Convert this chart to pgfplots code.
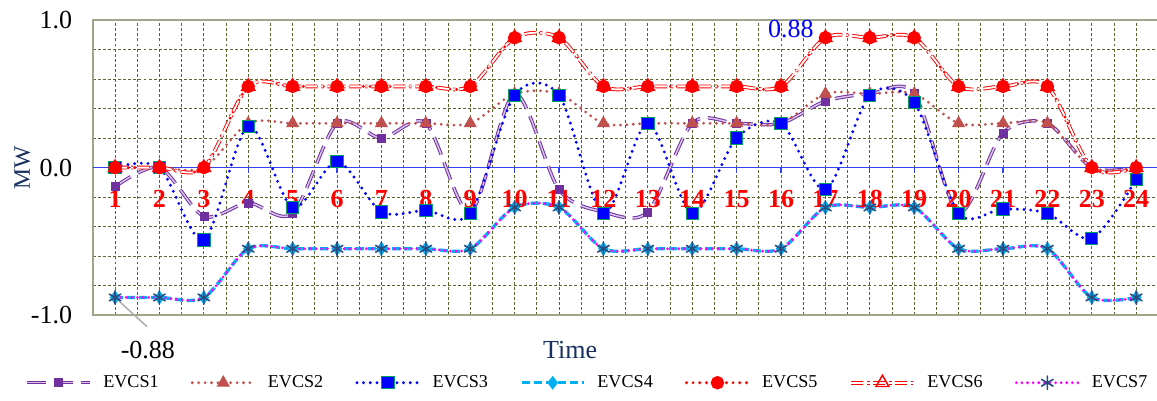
\documentclass[border=0pt]{standalone}
\usepackage{fontspec}
\setmainfont{Liberation Serif}
\usepackage{pgfplots}
\usepackage{pgfplotstable}
\pgfplotsset{compat=1.18}

\definecolor{cA}{HTML}{7030A0}
\definecolor{cAl}{HTML}{D8C4EA}
\definecolor{cB}{HTML}{C0504D}
\definecolor{cC}{HTML}{0000FF}
\definecolor{cCe}{HTML}{00A060}
\definecolor{cD}{HTML}{00B0F0}
\definecolor{cE}{HTML}{FF0000}
\definecolor{cG}{HTML}{FF00FF}
\definecolor{cStar}{HTML}{2B4C7E}
\definecolor{gridc}{HTML}{5A6630}
\definecolor{bordc}{HTML}{9DA68A}
\definecolor{zeroc}{HTML}{3344EE}
\definecolor{navy}{HTML}{17305E}

\pgfdeclareplotmark{dtick}{%
  \pgfpathmoveto{\pgfpoint{0pt}{0pt}}%
  \pgfpathlineto{\pgfpoint{0pt}{-\pgfplotmarksize}}%
  \pgfusepathqstroke}

\pgfplotstableread{
x  e1     e2   e3     e47    e56
1  -0.13  0    0      -0.88  0
2  0      0    0      -0.88  0
3  -0.33  0    -0.49  -0.88  0
4  -0.24  0.3  0.28   -0.55  0.55
5  -0.31  0.3  -0.27  -0.55  0.55
6  0.30   0.3  0.04   -0.55  0.55
7  0.20   0.3  -0.30  -0.55  0.55
8  0.30   0.3  -0.29  -0.55  0.55
9  -0.30  0.3  -0.31  -0.55  0.55
10 0.50   0.5  0.49   -0.27  0.88
11 -0.15  0.5  0.49   -0.27  0.88
12 -0.30  0.3  -0.31  -0.55  0.55
13 -0.30  0.3  0.30   -0.55  0.55
14 0.30   0.3  -0.31  -0.55  0.55
15 0.30   0.3  0.20   -0.55  0.55
16 0.30   0.3  0.30   -0.55  0.55
17 0.45   0.5  -0.15  -0.27  0.88
18 0.50   0.5  0.49   -0.27  0.88
19 0.50   0.5  0.44   -0.27  0.88
20 -0.30  0.3  -0.31  -0.55  0.55
21 0.235  0.3  -0.28  -0.55  0.55
22 0.30   0.3  -0.31  -0.55  0.55
23 0      0    -0.48  -0.88  0
24 0      0    -0.08  -0.88  0
}\data

\begin{document}
\begin{tikzpicture}
\begin{axis}[
  scale only axis,
  width=798.75pt, height=221.25pt,
  xmin=0.5, xmax=24.5, ymin=-1, ymax=1,
  xtick={1,...,24}, xticklabels={}, minor x tick num=1,
  ytick={-1,-0.8,-0.6,-0.4,-0.2,0,0.2,0.4,0.6,0.8,1},
  yticklabels={-1.0,,,,,0.0,,,,,1.0},
  yticklabel style={font=\fontsize{19.5}{22}\selectfont, xshift=-12pt},
  grid=both,
  major grid style={gridc, line width=0.6pt, dash pattern=on 2.2pt off 1.6pt},
  minor grid style={gridc, line width=0.6pt, dash pattern=on 2.2pt off 1.6pt},
  major tick length=0pt, minor tick length=0pt,
  axis line style={bordc, line width=1.5pt},
  clip=false,
  legend columns=7,
  legend style={at={(axis cs:11.65,-1.458)}, anchor=center, draw=none, fill=none,
    font=\fontsize{13.6}{16}\selectfont,
    /tikz/every odd column/.append style={column sep=7pt},
    /tikz/every even column/.append style={column sep=22pt}},
  legend image code/.code={\draw[mark repeat=2,mark phase=2,#1] plot coordinates {(0pt,0pt)(23.25pt,0pt)(46.5pt,0pt)};},
]
\coordinate (bl) at (rel axis cs:0,0);
\coordinate (tr) at (rel axis cs:1,1);

% zero line
\addplot[zeroc, line width=1.2pt, forget plot] coordinates {(0.5,0) (24.5,0)};
% ticks and red hour labels on the zero line
\addplot[only marks, mark=dtick, mark size=4pt, zeroc, line width=0.9pt, forget plot,
  point meta=explicit symbolic, nodes near coords={\pgfplotspointmeta},
  nodes near coords style={anchor=center, yshift=-23.6pt, text=red, inner sep=0pt,
    font=\fontsize{19.5}{22}\selectfont\bfseries}]
  coordinates {(1,0)[1] (2,0)[2] (3,0)[3] (4,0)[4] (5,0)[5] (6,0)[6] (7,0)[7] (8,0)[8]
  (9,0)[9] (10,0)[10] (11,0)[11] (12,0)[12] (13,0)[13] (14,0)[14] (15,0)[15] (16,0)[16]
  (17,0)[17] (18,0)[18] (19,0)[19] (20,0)[20] (21,0)[21] (22,0)[22] (23,0)[23] (24,0)[24]};

\addplot[cA, line width=0.75pt, double=cAl, double distance=1.1pt, dash pattern=on 14pt off 6pt,
  smooth, mark=square*, mark size=3pt, mark options={solid, fill=cA, draw=cA, line width=0.5pt}]
  table[x=x, y=e1] {\data};
\addlegendentry{EVCS1}
\addplot[cB, line width=2.3pt, line cap=round, dash pattern=on 0pt off 4.8pt,
  smooth, mark=triangle*, mark size=5.2pt, mark options={solid, fill=cB, draw=cB, line width=0.5pt}]
  table[x=x, y=e2] {\data};
\addlegendentry{EVCS2}
\addplot[cC, line width=2.4pt, line cap=round, dash pattern=on 0pt off 5pt,
  smooth, mark=square*, mark size=4.6pt, mark options={solid, fill=cC, draw=cCe, line width=0.7pt}]
  table[x=x, y=e3] {\data};
\addlegendentry{EVCS3}
\addplot[cD, line width=2.5pt, dash pattern=on 6pt off 3pt,
  smooth, mark=diamond*, mark size=3.2pt, mark options={solid, fill=cD, draw=cD}]
  table[x=x, y=e47] {\data};
\addlegendentry{EVCS4}
\addplot[cE, line width=2.4pt, line cap=round, dash pattern=on 0pt off 5pt,
  smooth, mark=*, mark size=3.8pt, mark options={solid, fill=cE, draw=cE}]
  table[x=x, y=e56] {\data};
\addlegendentry{EVCS5}
\addplot[cE, line width=0.7pt, double=white, double distance=1.4pt,
  dash pattern=on 9pt off 3pt on 1.5pt off 3pt,
  smooth, mark=triangle, mark size=5.6pt, mark options={solid, draw=cE, line width=1.1pt}]
  table[x=x, y=e56] {\data};
\addlegendentry{EVCS6}
\addplot[cG, line width=2.3pt, line cap=round, dash pattern=on 0pt off 4.2pt,
  smooth, mark=asterisk, mark size=5pt, mark options={solid, draw=cStar, line width=1.2pt}]
  table[x=x, y=e47] {\data};
\addlegendentry{EVCS7}

\draw[gray!65, line width=1.1pt] (axis cs:1,-0.88) -- (axis cs:1.72,-1.078);
\node[font=\fontsize{19.5}{22}\selectfont] at (axis cs:1.74,-1.234) {-0.88};
\node[text=blue, font=\fontsize{19.5}{22}\selectfont] at (axis cs:16.22,0.942) {0.88};
\node[text=navy, font=\fontsize{19.5}{22}\selectfont] at (axis cs:11.25,-1.234) {Time};
\node[text=navy, rotate=90, font=\fontsize{17.7}{20}\selectfont] at (axis cs:-1.09,0) {MW};
\end{axis}
\pgfresetboundingbox
\path ([xshift=-69.6pt,yshift=-63.75pt]bl) rectangle ([xshift=-1.05pt,yshift=15pt]tr);
\end{tikzpicture}
\end{document}
